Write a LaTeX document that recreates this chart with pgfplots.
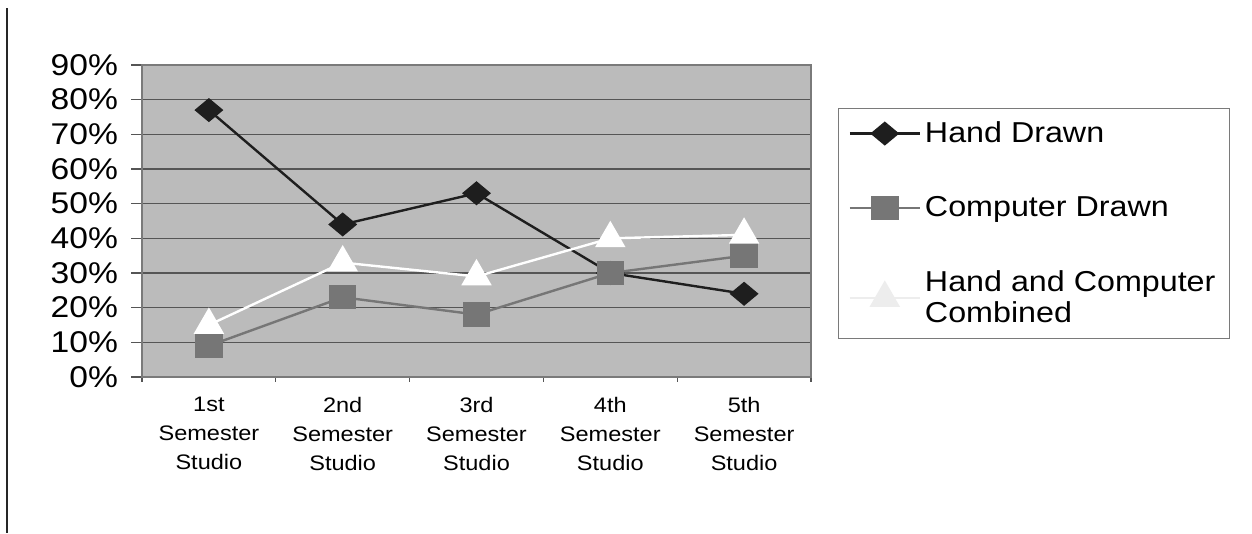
\documentclass[border=0pt]{standalone}
\usepackage{fontspec}
\setmainfont{Liberation Sans}[FakeStretch=1.12]
\usepackage{pgfplots}
\pgfplotsset{compat=1.18}
\definecolor{plotbg}{HTML}{BBBBBB}
\definecolor{gridc}{HTML}{555555}
\definecolor{framec}{HTML}{7A7A7A}
\definecolor{handc}{HTML}{1E1E1E}
\definecolor{compc}{HTML}{767676}
\definecolor{combleg}{HTML}{EDEDED}

\begin{document}
\begin{tikzpicture}
\path[use as bounding box] (0,0) rectangle (626pt,267pt);
\draw[line width=0.6pt, black!85] (3.5pt,0.5pt) -- (3.5pt,263pt);
\begin{axis}[
    at={(71pt,78.5pt)}, anchor=south west,
    scale only axis, width=334.5pt, height=156pt,
    xmin=-0.5, xmax=4.5, ymin=0, ymax=90,
    axis background/.style={fill=plotbg},
    axis line style={draw=framec, line width=1.2pt},
    ytick={0,10,...,90},
    yticklabels={0\%,10\%,20\%,30\%,40\%,50\%,60\%,70\%,80\%,90\%},
    ymajorgrids, grid style={draw=gridc, line width=0.7pt},
    xtick={0,1,2,3,4},
    xticklabels={{1st\\Semester\\Studio},{2nd\\Semester\\Studio},{3rd\\Semester\\Studio},{4th\\Semester\\Studio},{5th\\Semester\\Studio}},
    minor xtick={-0.5,0.5,1.5,2.5,3.5,4.5},
    xtick pos=bottom, ytick pos=left,
    tick align=outside,
    major tick length=5.5pt, minor tick length=2.5pt,
    major x tick style={draw=none},
    minor x tick style={draw=gridc, line width=0.6pt},
    ytick style={draw=gridc, line width=0.6pt},
    xticklabel style={font=\fontsize{10.5}{14.5}\selectfont, align=center, yshift=-1pt},
    yticklabel style={font=\fontsize{15}{17}\selectfont, xshift=-3pt},
    legend style={at={(1,1)}, anchor=north west, xshift=13.5pt, yshift=-21.5pt,
        draw=framec, line width=0.6pt, fill=white,
        font=\fontsize{14.4}{15.5}\selectfont, row sep=21.5pt,
        inner xsep=5pt, inner ysep=4.5pt, cells={anchor=west, align=left}},
    legend image code/.code={\draw[#1, mark repeat=2, mark phase=2]
        plot coordinates {(0pt,0pt) (17.5pt,0pt) (35pt,0pt)};},
]
\addplot[handc, line width=1.2pt, mark=diamond*, mark size=5.25pt,
    mark options={xscale=1.6, fill=handc}]
    coordinates {(0,77) (1,44) (2,53) (3,30) (4,24)};
\addlegendentry{Hand Drawn}
\addplot[compc, line width=1.2pt, mark=square*, mark size=5.5pt,
    mark options={xscale=1.14, fill=compc}]
    coordinates {(0,9) (1,23) (2,18) (3,30) (4,35)};
\addlegendentry{Computer Drawn}
\addplot[white, line width=1.2pt, mark=triangle*, mark size=7.6pt,
    mark options={fill=white}, forget plot]
    coordinates {(0,15) (1,33) (2,29) (3,40) (4,41)};
\addlegendimage{combleg, line width=1.2pt, mark=triangle*, mark size=7.6pt, mark options={fill=combleg}}
\addlegendentry{Hand and Computer\\Combined}
\end{axis}
\end{tikzpicture}
\end{document}
